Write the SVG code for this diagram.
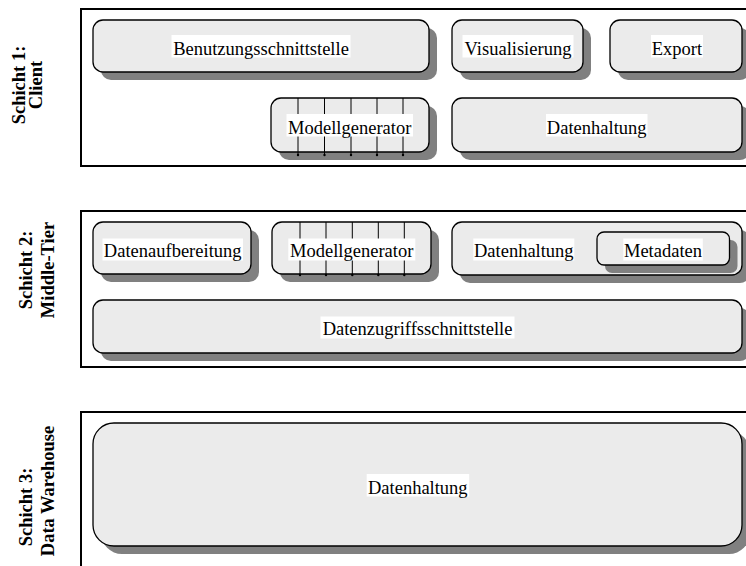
<svg xmlns="http://www.w3.org/2000/svg" width="746" height="566" viewBox="0 0 746 566">
  <style>
    .frame { fill: #ffffff; stroke: #000000; stroke-width: 2; }
    .box { fill: #ebebeb; stroke: #000000; stroke-width: 1.3; }
    .shadow { fill: #808080; stroke: none; }
    .bg { fill: #ffffff; stroke: none; }
    .lbl { font-family: "Liberation Serif", "Times New Roman", serif; font-size: 18.5px; fill: #000000; text-anchor: middle; }
    .side { font-family: "Liberation Serif", "Times New Roman", serif; font-size: 18.5px; font-weight: bold; fill: #000000; text-anchor: middle; }
    .grid { stroke: #000000; stroke-width: 1; marker-end: url(#dot); }
  </style>
  <defs>
    <marker id="dot" viewBox="0 0 4 4" refX="2" refY="2" markerWidth="4" markerHeight="4" markerUnits="userSpaceOnUse">
      <circle cx="2" cy="2" r="1.2" fill="#000000"/>
    </marker>
  </defs>

  <!-- layer frames -->
  <g id="frames">
    <rect class="frame" x="81" y="9" width="680" height="157"/>
    <rect class="frame" x="81" y="211" width="680" height="156"/>
    <rect class="frame" x="81" y="412" width="680" height="170"/>
  </g>

  <!-- layer captions -->
  <g id="captions">
    <text class="side" transform="translate(25,85) rotate(-90)">Schicht 1:</text>
    <text class="side" transform="translate(42,85) rotate(-90)">Client</text>
    <text class="side" transform="translate(32,270) rotate(-90)">Schicht 2:</text>
    <text class="side" transform="translate(54,270) rotate(-90)">Middle-Tier</text>
    <text class="side" transform="translate(31.5,507) rotate(-90)">Schicht 3:</text>
    <text class="side" transform="translate(53.5,491) rotate(-90)">Data Warehouse</text>
  </g>

  <!-- Layer 1: Client -->
  <g id="l1-benutzungsschnittstelle">
    <rect class="shadow" x="101" y="28" width="336" height="52" rx="10"/>
    <rect class="box" x="93" y="20" width="336" height="52" rx="10"/>
    <rect class="bg" x="171.5" y="35" width="179" height="22.5"/>
    <text class="lbl" x="261" y="55">Benutzungsschnittstelle</text>
  </g>
  <g id="l1-visualisierung">
    <rect class="shadow" x="460" y="28" width="131" height="52" rx="10"/>
    <rect class="box" x="452" y="20" width="131" height="52" rx="10"/>
    <rect class="bg" x="462.5" y="35" width="111" height="22.5"/>
    <text class="lbl" x="518" y="55">Visualisierung</text>
  </g>
  <g id="l1-export">
    <rect class="shadow" x="618" y="28" width="132" height="52" rx="10"/>
    <rect class="box" x="610" y="20" width="132" height="52" rx="10"/>
    <rect class="bg" x="651" y="35" width="52" height="22.5"/>
    <text class="lbl" x="677" y="55">Export</text>
  </g>
  <g id="l1-modellgenerator">
    <rect class="shadow" x="279" y="106" width="158" height="54" rx="10"/>
    <rect class="box" x="271" y="98" width="158" height="54" rx="10"/>
    <line class="grid" x1="298" y1="98" x2="298" y2="155"/>
    <line class="grid" x1="324.5" y1="98" x2="324.5" y2="155"/>
    <line class="grid" x1="351" y1="98" x2="351" y2="155"/>
    <line class="grid" x1="377" y1="98" x2="377" y2="155"/>
    <line class="grid" x1="403" y1="98" x2="403" y2="155"/>
    <rect class="bg" x="286.5" y="114" width="126.5" height="22.5"/>
    <text class="lbl" x="349.7" y="133.5">Modellgenerator</text>
  </g>
  <g id="l1-datenhaltung">
    <rect class="shadow" x="460" y="106" width="290" height="54" rx="10"/>
    <rect class="box" x="452" y="98" width="290" height="54" rx="10"/>
    <rect class="bg" x="546" y="114" width="101.5" height="22.5"/>
    <text class="lbl" x="596.7" y="133.5">Datenhaltung</text>
  </g>

  <!-- Layer 2: Middle-Tier -->
  <g id="l2-datenaufbereitung">
    <rect class="shadow" x="101" y="230" width="158" height="52" rx="10"/>
    <rect class="box" x="93" y="222" width="158" height="52" rx="10"/>
    <rect class="bg" x="102.5" y="238.5" width="140.5" height="22"/>
    <text class="lbl" x="172.7" y="257">Datenaufbereitung</text>
  </g>
  <g id="l2-modellgenerator">
    <rect class="shadow" x="280" y="230" width="159" height="52" rx="10"/>
    <rect class="box" x="272" y="222" width="159" height="52" rx="10"/>
    <line class="grid" x1="300" y1="222" x2="300" y2="275"/>
    <line class="grid" x1="326" y1="222" x2="326" y2="275"/>
    <line class="grid" x1="352.3" y1="222" x2="352.3" y2="275"/>
    <line class="grid" x1="378.3" y1="222" x2="378.3" y2="275"/>
    <line class="grid" x1="404.3" y1="222" x2="404.3" y2="275"/>
    <rect class="bg" x="288.3" y="238.5" width="127" height="22"/>
    <text class="lbl" x="351.7" y="257">Modellgenerator</text>
  </g>
  <g id="l2-datenhaltung">
    <rect class="shadow" x="460" y="230" width="290" height="53" rx="10"/>
    <rect class="box" x="452" y="222" width="290" height="53" rx="10"/>
    <rect class="bg" x="473.3" y="238.5" width="101" height="22"/>
    <text class="lbl" x="523.8" y="257">Datenhaltung</text>
  </g>
  <g id="l2-metadaten">
    <rect class="shadow" x="605" y="240" width="132.5" height="33" rx="7"/>
    <rect class="box" x="597" y="232" width="132.5" height="33" rx="7"/>
    <rect class="bg" x="623.3" y="238.5" width="79.5" height="22"/>
    <text class="lbl" x="663" y="257">Metadaten</text>
  </g>
  <g id="l2-datenzugriffsschnittstelle">
    <rect class="shadow" x="101" y="308" width="649" height="53" rx="10"/>
    <rect class="box" x="93" y="300" width="649" height="53" rx="10"/>
    <rect class="bg" x="320.5" y="316.5" width="194" height="22"/>
    <text class="lbl" x="417.5" y="335">Datenzugriffsschnittstelle</text>
  </g>

  <!-- Layer 3: Data Warehouse -->
  <g id="l3-datenhaltung">
    <rect class="shadow" x="101" y="431" width="649" height="123" rx="21"/>
    <rect class="box" x="93" y="423" width="649" height="123" rx="21"/>
    <rect class="bg" x="366.7" y="474" width="102.5" height="22.5"/>
    <text class="lbl" x="417.8" y="493.5">Datenhaltung</text>
  </g>

  <g id="connectors"/>
</svg>
